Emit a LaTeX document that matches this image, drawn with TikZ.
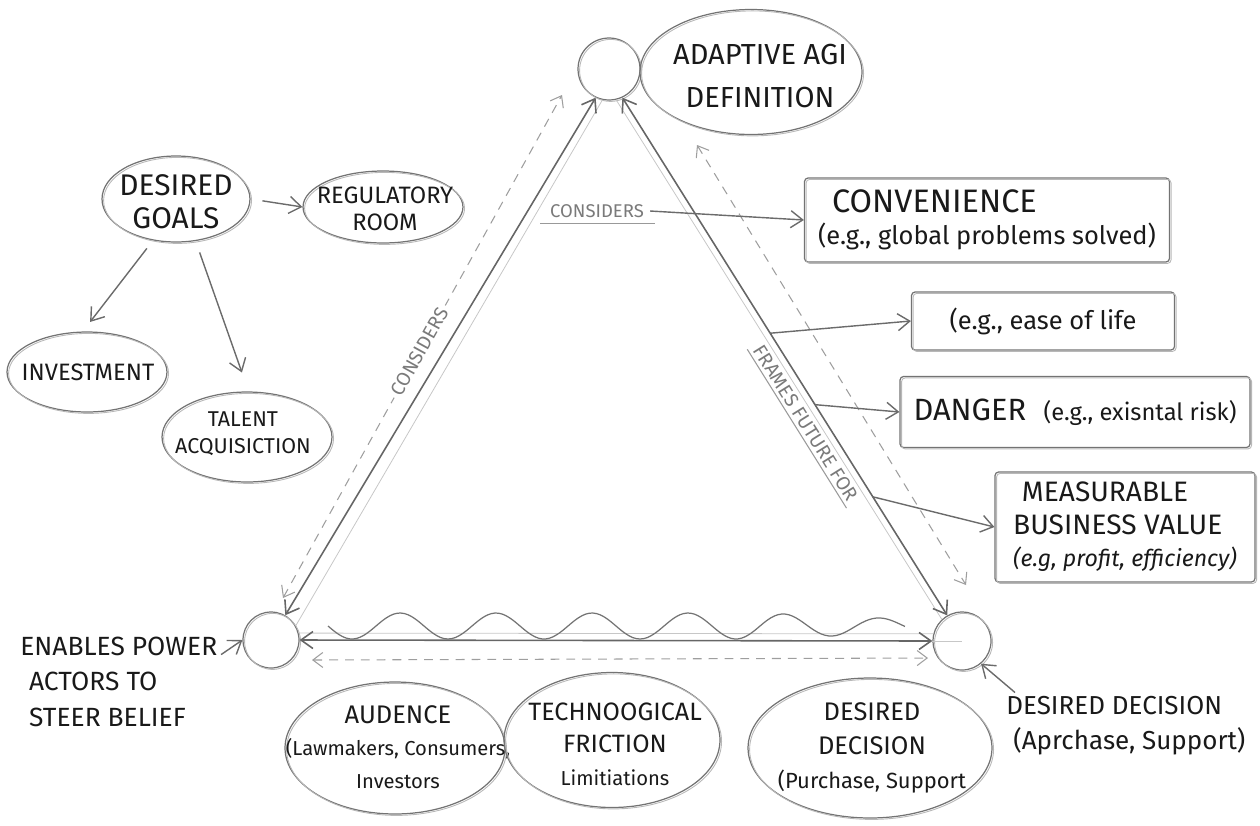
\documentclass[tikz,border=0pt]{standalone}
\usepackage{fontspec}
\setmainfont{Fira Sans}
\usetikzlibrary{shapes.geometric,arrows.meta,calc}

\tikzset{
  sketch/.style={draw=black!55, line width=0.7pt,
    postaction={draw=black!28, line width=0.5pt, transform canvas={shift={(0.9pt,-0.8pt)}}}},
  oval/.style={sketch, ellipse, inner sep=0pt},
  tag/.style={sketch, rectangle, rounded corners=2pt, inner sep=0pt, align=left, text=black!90},
  hub/.style={sketch, circle, inner sep=0pt},
  link/.style={draw=black!58, line width=0.8pt, -{Straight Barb[length=2.4mm,width=3.4mm]}},
  twoway/.style={draw=black!60, line width=0.9pt,
    {Straight Barb[length=2.4mm,width=3.4mm]}-{Straight Barb[length=2.4mm,width=3.4mm]}},
  faint/.style={draw=black!38, line width=0.6pt, dash pattern=on 5pt off 4pt,
    {Straight Barb[length=2mm,width=3mm]}-{Straight Barb[length=2mm,width=3mm]}},
  ghost/.style={draw=black!22, line width=0.45pt},
  ul/.style={draw=black!40, line width=0.6pt},
  edgelbl/.style={text=black!52, font=\fontsize{11}{13}\selectfont},
  plain/.style={inner sep=0pt, align=center, text=black!90}
}

\begin{document}
\begin{tikzpicture}[x=0.02cm, y=-0.02cm]
\useasboundingbox (0,0) rectangle (1260,825);

% hubs of the triangle
\node[hub, minimum size=1.24cm] (top) at (609,69) {};
\node[hub, minimum size=1.12cm] (lft) at (271,640) {};
\node[hub, minimum size=1.16cm] (rgt) at (962,641) {};

\node[oval, minimum width=4.44cm, minimum height=2.5cm] (adapt) at (751,72) {};
\node[plain, font=\fontsize{16.5}{24}\selectfont] (adapttxt) at (760,76) {ADAPTIVE AGI\\DEFINITION};

% goals cluster
\node[oval, minimum width=2.96cm, minimum height=1.72cm] (goals) at (176,199) {};
\node[plain, font=\fontsize{17}{19}\selectfont] (goalstxt) at (176,202) {DESIRED\\GOALS};
\node[oval, minimum width=3.2cm, minimum height=1.44cm] (reg) at (383,207) {};
\node[plain, font=\fontsize{13.5}{15.5}\selectfont] (regtxt) at (385,209) {REGULATORY\\ROOM};
\node[oval, minimum width=3.2cm, minimum height=1.6cm] (inv) at (87,372) {};
\node[plain, font=\fontsize{13.5}{15}\selectfont] (invtxt) at (88,372) {INVESTMENT};
\node[oval, minimum width=3.4cm, minimum height=1.8cm] (tal) at (247,437) {};
\node[plain, font=\fontsize{12.2}{15.5}\selectfont] (taltxt) at (243,434) {TALENT\\ACQUISICTION};

\draw[link, shorten <=0.24cm] (goals.east) -- (reg.west);
\draw[link, shorten <=0.2cm, shorten >=0.24cm] (goals.241) -- (inv.96);
\draw[link, shorten <=0.24cm, shorten >=0.4cm] (goals.295) -- (tal.88);

% boxes on the right
\node[tag, minimum width=7.3cm, minimum height=1.68cm] (conv) at (987,220)
  {\hspace{8pt}{\fontsize{18.5}{21}\selectfont CONVENIENCE}\\[5pt]{\fontsize{14.5}{16}\selectfont (e.g., global problems solved)}};
\node[tag, minimum width=5.26cm, minimum height=1.16cm, font=\fontsize{14.5}{16}\selectfont] (ease) at (1043,321) {(e.g., ease of life};
\node[tag, minimum width=7cm, minimum height=1.42cm] (danger) at (1075,412)
  {{\fontsize{17.5}{19}\selectfont DANGER}\quad{\fontsize{13.5}{15}\selectfont (e.g., exisntal risk)}};
\node[tag, minimum width=5.2cm, minimum height=2.2cm, font=\fontsize{16}{18.5}\selectfont] (meas) at (1125,527)
  {\hspace{5pt}MEASURABLE\\BUSINESS VALUE\\{\fontsize{13.2}{15}\selectfont\itshape (e.g, profit, efficiency)}};

% bottom ovals
\node[oval, minimum width=4.4cm, minimum height=2.64cm] (aud) at (395,748) {};
\node[plain, font=\fontsize{11.5}{18.5}\selectfont] (audtxt) at (398,747)
  {{\fontsize{14.5}{17}\selectfont AUDENCE}\\(Lawmakers, Consumers,\\Investors};
\node[oval, minimum width=4.32cm, minimum height=2.7cm] (tech) at (612,740) {};
\node[plain, font=\fontsize{14.3}{18.5}\selectfont] (techtxt) at (615,744)
  {TECHNOOGICAL\\FRICTION\\{\fontsize{11.5}{15}\selectfont Limitiations}};
\node[oval, minimum width=4.88cm, minimum height=2.8cm] (ddec) at (870,748) {};
\node[plain, font=\fontsize{14.5}{19.5}\selectfont] (ddectxt) at (872,748)
  {DESIRED\\DECISION\\{\fontsize{12.5}{16}\selectfont (Purchase, Support}};

% side texts
\node[plain, anchor=north west, align=left, font=\fontsize{15}{20}\selectfont] (enab) at (20,637)
  {ENABLES POWER\\\hspace{5pt}ACTORS TO\\\hspace{5pt}STEER BELIEF};
\node[plain, anchor=north west, align=left, font=\fontsize{14.8}{20}\selectfont] (dd2) at (1006,696) {DESIRED DECISION\\\hspace{4pt}(Aprchase, Support)};

% triangle edges
\coordinate (dl1) at (283,598);
\coordinate (dl2) at (562,95);
\coordinate (dr1) at (697,145);
\coordinate (dr2) at (966,585);
\coordinate (db1) at (312,660);
\coordinate (db2) at (928,658);

\draw[ghost] (lft.30) -- (top.258);
\draw[twoway] (lft.60) -- (top.245);
\draw[faint] (dl1) -- node[pos=0.49, sloped, fill=white, inner sep=2pt, edgelbl] (cons1) {CONSIDERS} (dl2);

\draw[ghost] (top.283) -- (rgt.133);
\draw[twoway] (top.295) -- coordinate[pos=0.455] (f1) coordinate[pos=0.593] (f2) coordinate[pos=0.771] (f3) (rgt.120);
\draw[faint] (dr1) -- (dr2);

\draw[ghost] (lft.14) -- (rgt.166);
\draw[twoway] (lft.east) -- (rgt.west);
\draw[ghost] (rgt.west) -- (rgt.center);
\draw[faint] (db1) -- (db2);
\draw[draw=black!55, line width=0.7pt] plot[domain=328:905, samples=160, smooth]
  (\x, {626 - (13 - 6*max(0,\x-760)/145)*sin(3.75*(\x-376))});

% labels and feeds
\node[edgelbl, font=\fontsize{10.5}{12}\selectfont] (cons2) at (597,211) {CONSIDERS};
\draw[ul] ([xshift=-2pt]cons2.south west) -- ([xshift=3pt]cons2.south east);
\draw[link] (cons2.east) -- (conv.west);

\node[edgelbl, rotate=-58, inner sep=2pt] (ffl) at (806,423) {FRAMES FUTURE FOR};
\draw[ul] (ffl.south west) -- (ffl.south east);

\draw[link] (f1) -- (ease.west);
\draw[link] (f2) -- (danger.west);
\draw[link] (f3) -- (meas.west);

\draw[link] ([xshift=2pt, yshift=-10pt]enab.north east) -- (lft.west);
\draw[link] ([xshift=0.18cm, yshift=2pt]dd2.north west) -- (rgt.-50);
\end{tikzpicture}
\end{document}
